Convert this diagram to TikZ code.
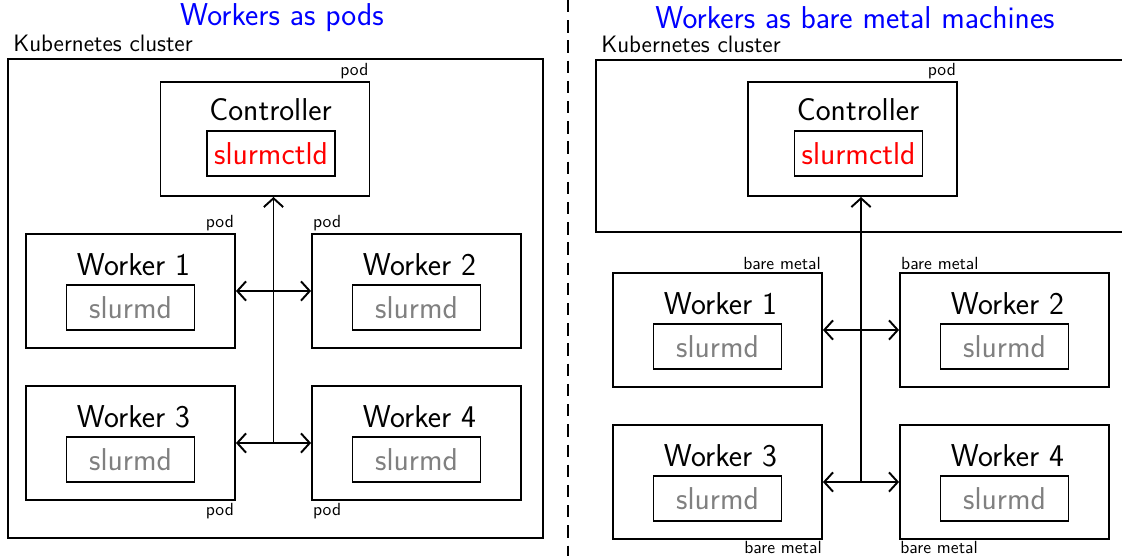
\documentclass[tikz,border=0pt]{standalone}
\usepackage{tikz}
\usetikzlibrary{positioning}
\usetikzlibrary{arrows.meta,calc}
\renewcommand{\familydefault}{\sfdefault}
\tikzstyle{line} = [draw, line width=1.1pt, -{Straight Barb[length=5pt,width=11pt]}]
\tikzstyle{line2} = [draw, line width=1.1pt, {Straight Barb[length=5pt,width=11pt]}-{Straight Barb[length=5pt,width=11pt]}]
\tikzstyle{cluster} = [draw, line width=1.1pt, inner sep=0pt]
\tikzstyle{host} = [draw, line width=1.1pt, minimum width=4.18cm, minimum height=2.28cm, inner sep=0pt]
\tikzstyle{daemon} = [draw, line width=1.1pt, minimum width=2.56cm, minimum height=0.9cm, font=\fontsize{18}{22}\selectfont, inner sep=0pt]
\tikzstyle{hostname} = [font=\fontsize{18}{22}\selectfont, anchor=base]
\tikzstyle{tag} = [font=\fontsize{10}{12}\selectfont, inner sep=1pt]
\tikzstyle{title} = [font=\fontsize{18}{22}\selectfont, text=blue]

\begin{document}
\begin{tikzpicture}[x=0.02cm, y=-0.02cm]
	\useasboundingbox (0,0) rectangle (1122,556);
	\node[title] (tl) at (282,18) {Workers as pods};
	\node[title] (tr) at (855,18) {Workers as bare metal machines};
	\draw[line width=1pt, dash pattern=on 7pt off 4.5pt] (568,0) -- (568,556);
	
	% left: workers as pods
	\node[cluster, minimum width=10.7cm, minimum height=9.58cm] (kl) at (275.5,298.5) {};
	\node[anchor=south west, font=\fontsize{13.5}{16}\selectfont] (kll) at (kl.north west) {Kubernetes cluster};
	
	\node[host] (cl) at (265,139) {};
	\node[hostname] (cln) at ([xshift=0.11cm, yshift=-0.78cm]cl.north) {Controller};
	\node[daemon, text=red] (cld) at ([xshift=0.12cm, yshift=-1.45cm]cl.north) {slurmctld};
	\node[tag, anchor=south east] (clt) at (cl.north east) {pod};
	
	\node[host] (w1l) at (130.5,291) {};
	\node[hostname] (w1ln) at ([xshift=0.06cm, yshift=-0.84cm]w1l.north) {Worker 1};
	\node[daemon, text=gray] (w1ld) at ([yshift=-1.49cm]w1l.north) {slurmd};
	\node[tag, anchor=south east] (w1lt) at (w1l.north east) {pod};
	
	\node[host] (w2l) at (416.5,291) {};
	\node[hostname] (w2ln) at ([xshift=0.06cm, yshift=-0.84cm]w2l.north) {Worker 2};
	\node[daemon, text=gray] (w2ld) at ([yshift=-1.49cm]w2l.north) {slurmd};
	\node[tag, anchor=south west] (w2lt) at (w2l.north west) {pod};
	
	\node[host] (w3l) at (130.5,443) {};
	\node[hostname] (w3ln) at ([xshift=0.06cm, yshift=-0.84cm]w3l.north) {Worker 3};
	\node[daemon, text=gray] (w3ld) at ([yshift=-1.49cm]w3l.north) {slurmd};
	\node[tag, anchor=north east] (w3lt) at (w3l.south east) {pod};
	
	\node[host] (w4l) at (416.5,443) {};
	\node[hostname] (w4ln) at ([xshift=0.06cm, yshift=-0.84cm]w4l.north) {Worker 4};
	\node[daemon, text=gray] (w4ld) at ([yshift=-1.49cm]w4l.north) {slurmd};
	\node[tag, anchor=north west] (w4lt) at (w4l.south west) {pod};
	
	\coordinate (jl) at ($(w3l.east)!0.5!(w4l.west)$);
	\path [line2] (w1l) -- (w2l);
	\path [line2] (w3l) -- (w4l);
	\path [line] (jl) -- (jl |- cl.south);
	
	% right: workers as bare metal machines
	\node[cluster, minimum width=10.9cm, minimum height=3.44cm] (kr) at (868.5,146) {};
	\node[anchor=south west, font=\fontsize{13.5}{16}\selectfont] (krl) at (kr.north west) {Kubernetes cluster};
	
	\node[host] (cr) at (852.5,139) {};
	\node[hostname] (crn) at ([xshift=0.11cm, yshift=-0.78cm]cr.north) {Controller};
	\node[daemon, text=red] (crd) at ([xshift=0.12cm, yshift=-1.45cm]cr.north) {slurmctld};
	\node[tag, anchor=south east] (crt) at (cr.north east) {pod};
	
	\node[host] (w1r) at (717.5,330) {};
	\node[hostname] (w1rn) at ([xshift=0.06cm, yshift=-0.84cm]w1r.north) {Worker 1};
	\node[daemon, text=gray] (w1rd) at ([yshift=-1.49cm]w1r.north) {slurmd};
	\node[tag, anchor=south east] (w1rt) at (w1r.north east) {bare metal};
	
	\node[host] (w2r) at (1004.5,330) {};
	\node[hostname] (w2rn) at ([xshift=0.06cm, yshift=-0.84cm]w2r.north) {Worker 2};
	\node[daemon, text=gray] (w2rd) at ([yshift=-1.49cm]w2r.north) {slurmd};
	\node[tag, anchor=south west] (w2rt) at (w2r.north west) {bare metal};
	
	\node[host] (w3r) at (717.5,482) {};
	\node[hostname] (w3rn) at ([xshift=0.06cm, yshift=-0.84cm]w3r.north) {Worker 3};
	\node[daemon, text=gray] (w3rd) at ([yshift=-1.49cm]w3r.north) {slurmd};
	\node[tag, anchor=north east, inner sep=0.5pt] (w3rt) at (w3r.south east) {bare metal};
	
	\node[host] (w4r) at (1004.5,482) {};
	\node[hostname] (w4rn) at ([xshift=0.06cm, yshift=-0.84cm]w4r.north) {Worker 4};
	\node[daemon, text=gray] (w4rd) at ([yshift=-1.49cm]w4r.north) {slurmd};
	\node[tag, anchor=north west, inner sep=0.5pt] (w4rt) at (w4r.south west) {bare metal};
	
	\coordinate (jr) at ($(w3r.east)!0.5!(w4r.west)$);
	\path [line2] (w1r) -- (w2r);
	\path [line2] (w3r) -- (w4r);
	\path [line] (jr) -- (jr |- cr.south);
\end{tikzpicture}
\end{document}
